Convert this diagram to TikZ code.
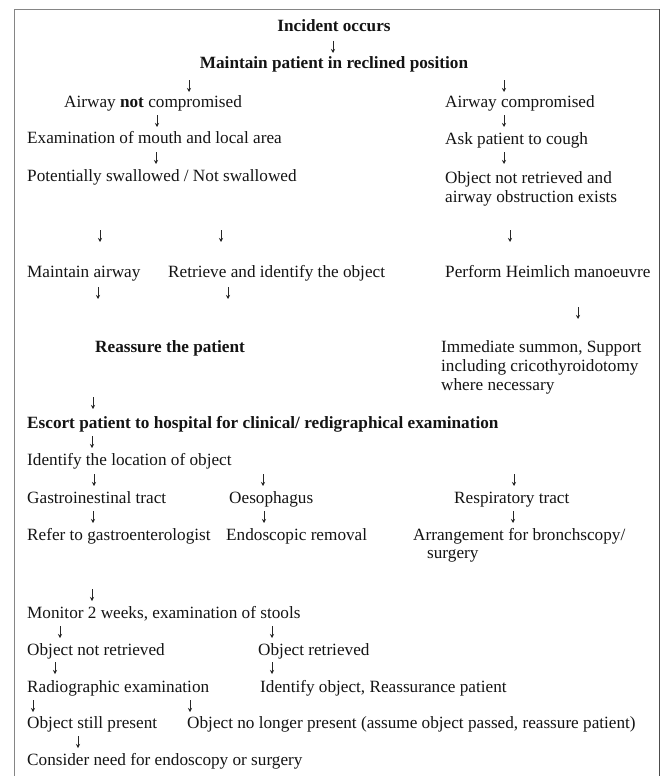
\documentclass[tikz,border=0pt]{standalone}
\usepackage{fontspec}
\setmainfont{Liberation Serif}
\usetikzlibrary{arrows.meta}
\newcommand\dnarrow[3]{\coordinate (#1s) at (#2,#3-6); \coordinate (#1e) at (#2,#3+6); \draw[arr] (#1s) -- (#1e);}
\begin{document}
\begin{tikzpicture}[x=1pt,y=-1pt,
  t/.style={anchor=base west,inner sep=0pt,text=black!92,font=\fontsize{17.2}{19}\selectfont},
  tb/.style={t,font=\fontsize{17.2}{19}\selectfont\bfseries},
  arr/.style={line width=0.9pt,black!85,-{Stealth[length=4pt,width=4pt]}},
  frame/.style={line width=1.6pt,black!48}]
\useasboundingbox (0,0) rectangle (665,776);
\fill[white] (0,0) rectangle (665,776);
% frame
\draw[frame] (14.5,778) -- (14.5,9.5) -- (659,9.5);
\draw[line width=1.6pt,black!70] (659.5,9.5) -- (659.5,778);
% texts
\node[tb,anchor=base] (inc) at (334,32) {Incident occurs};
\node[tb,anchor=base] (mpr) at (334,69) {Maintain patient in reclined position};
\node[t] (anc) at (64,107) {Airway \textbf{not} compromised};
\node[t] (ac) at (445,107) {Airway compromised};
\node[t] (exm) at (27,143) {Examination of mouth and local area};
\node[t] (ask) at (445,144) {Ask patient to cough};
\node[t] (pot) at (27,181) {Potentially swallowed / Not swallowed};
\node[t] (onr1) at (445,183) {Object not retrieved and};
\node[t] (onr2) at (445,202) {airway obstruction exists};
\node[t] (mai) at (27,277) {Maintain airway};
\node[t] (ret) at (168,277) {Retrieve and identify the object};
\node[t] (hei) at (445,277) {Perform Heimlich manoeuvre};
\node[tb] (rea) at (95,352) {Reassure the patient};
\node[t] (imm1) at (441,352) {Immediate summon, Support};
\node[t] (imm2) at (441,371) {including cricothyroidotomy};
\node[t] (imm3) at (441,390) {where necessary};
\node[tb] (esc) at (27,428) {Escort patient to hospital for clinical/ redigraphical examination};
\node[t] (idl) at (27,465) {Identify the location of object};
\node[t] (git) at (27,503) {Gastroinestinal tract};
\node[t] (oes) at (229,503) {Oesophagus};
\node[t] (rsp) at (454,503) {Respiratory tract};
\node[t] (ref) at (27,540) {Refer to gastroenterologist};
\node[t] (end) at (226,540) {Endoscopic removal};
\node[t] (arr1) at (413,540) {Arrangement for bronchscopy/};
\node[t] (arr2) at (427,558) {surgery};
\node[t] (mon) at (27,618) {Monitor 2 weeks, examination of stools};
\node[t] (onr) at (27,655) {Object not retrieved};
\node[t] (ore) at (258,655) {Object retrieved};
\node[t] (rad) at (27,692) {Radiographic examination};
\node[t] (ido) at (260,692) {Identify object, Reassurance patient};
\node[t] (osp) at (27,728) {Object still present};
\node[t] (onl) at (187,728) {Object no longer present (assume object passed, reassure patient)};
\node[t] (con) at (27,765) {Consider need for endoscopy or surgery};
% arrows
\dnarrow{a1}{333}{47}
\dnarrow{a2}{189}{86}
\dnarrow{a3}{504}{86}
\dnarrow{a4}{157}{121}
\dnarrow{a5}{504}{121}
\dnarrow{a6}{156}{158}
\dnarrow{a7}{504}{158}
\dnarrow{a8}{100}{236}
\dnarrow{a9}{221}{236}
\dnarrow{a10}{510}{236}
\dnarrow{a11}{98}{293}
\dnarrow{a12}{228}{293}
\dnarrow{a13}{578}{313}
\dnarrow{a14}{93}{403}
\dnarrow{a15}{92}{442}
\dnarrow{a16}{94}{480}
\dnarrow{a17}{263}{480}
\dnarrow{a18}{514}{480}
\dnarrow{a19}{93}{517}
\dnarrow{a20}{264}{517}
\dnarrow{a21}{513}{517}
\dnarrow{a22}{92}{595}
\dnarrow{a23}{60}{632}
\dnarrow{a24}{272}{632}
\dnarrow{a25}{55}{668}
\dnarrow{a26}{272}{668}
\dnarrow{a27}{33}{706}
\dnarrow{a28}{190}{706}
\dnarrow{a29}{78}{742}
\end{tikzpicture}
\end{document}
